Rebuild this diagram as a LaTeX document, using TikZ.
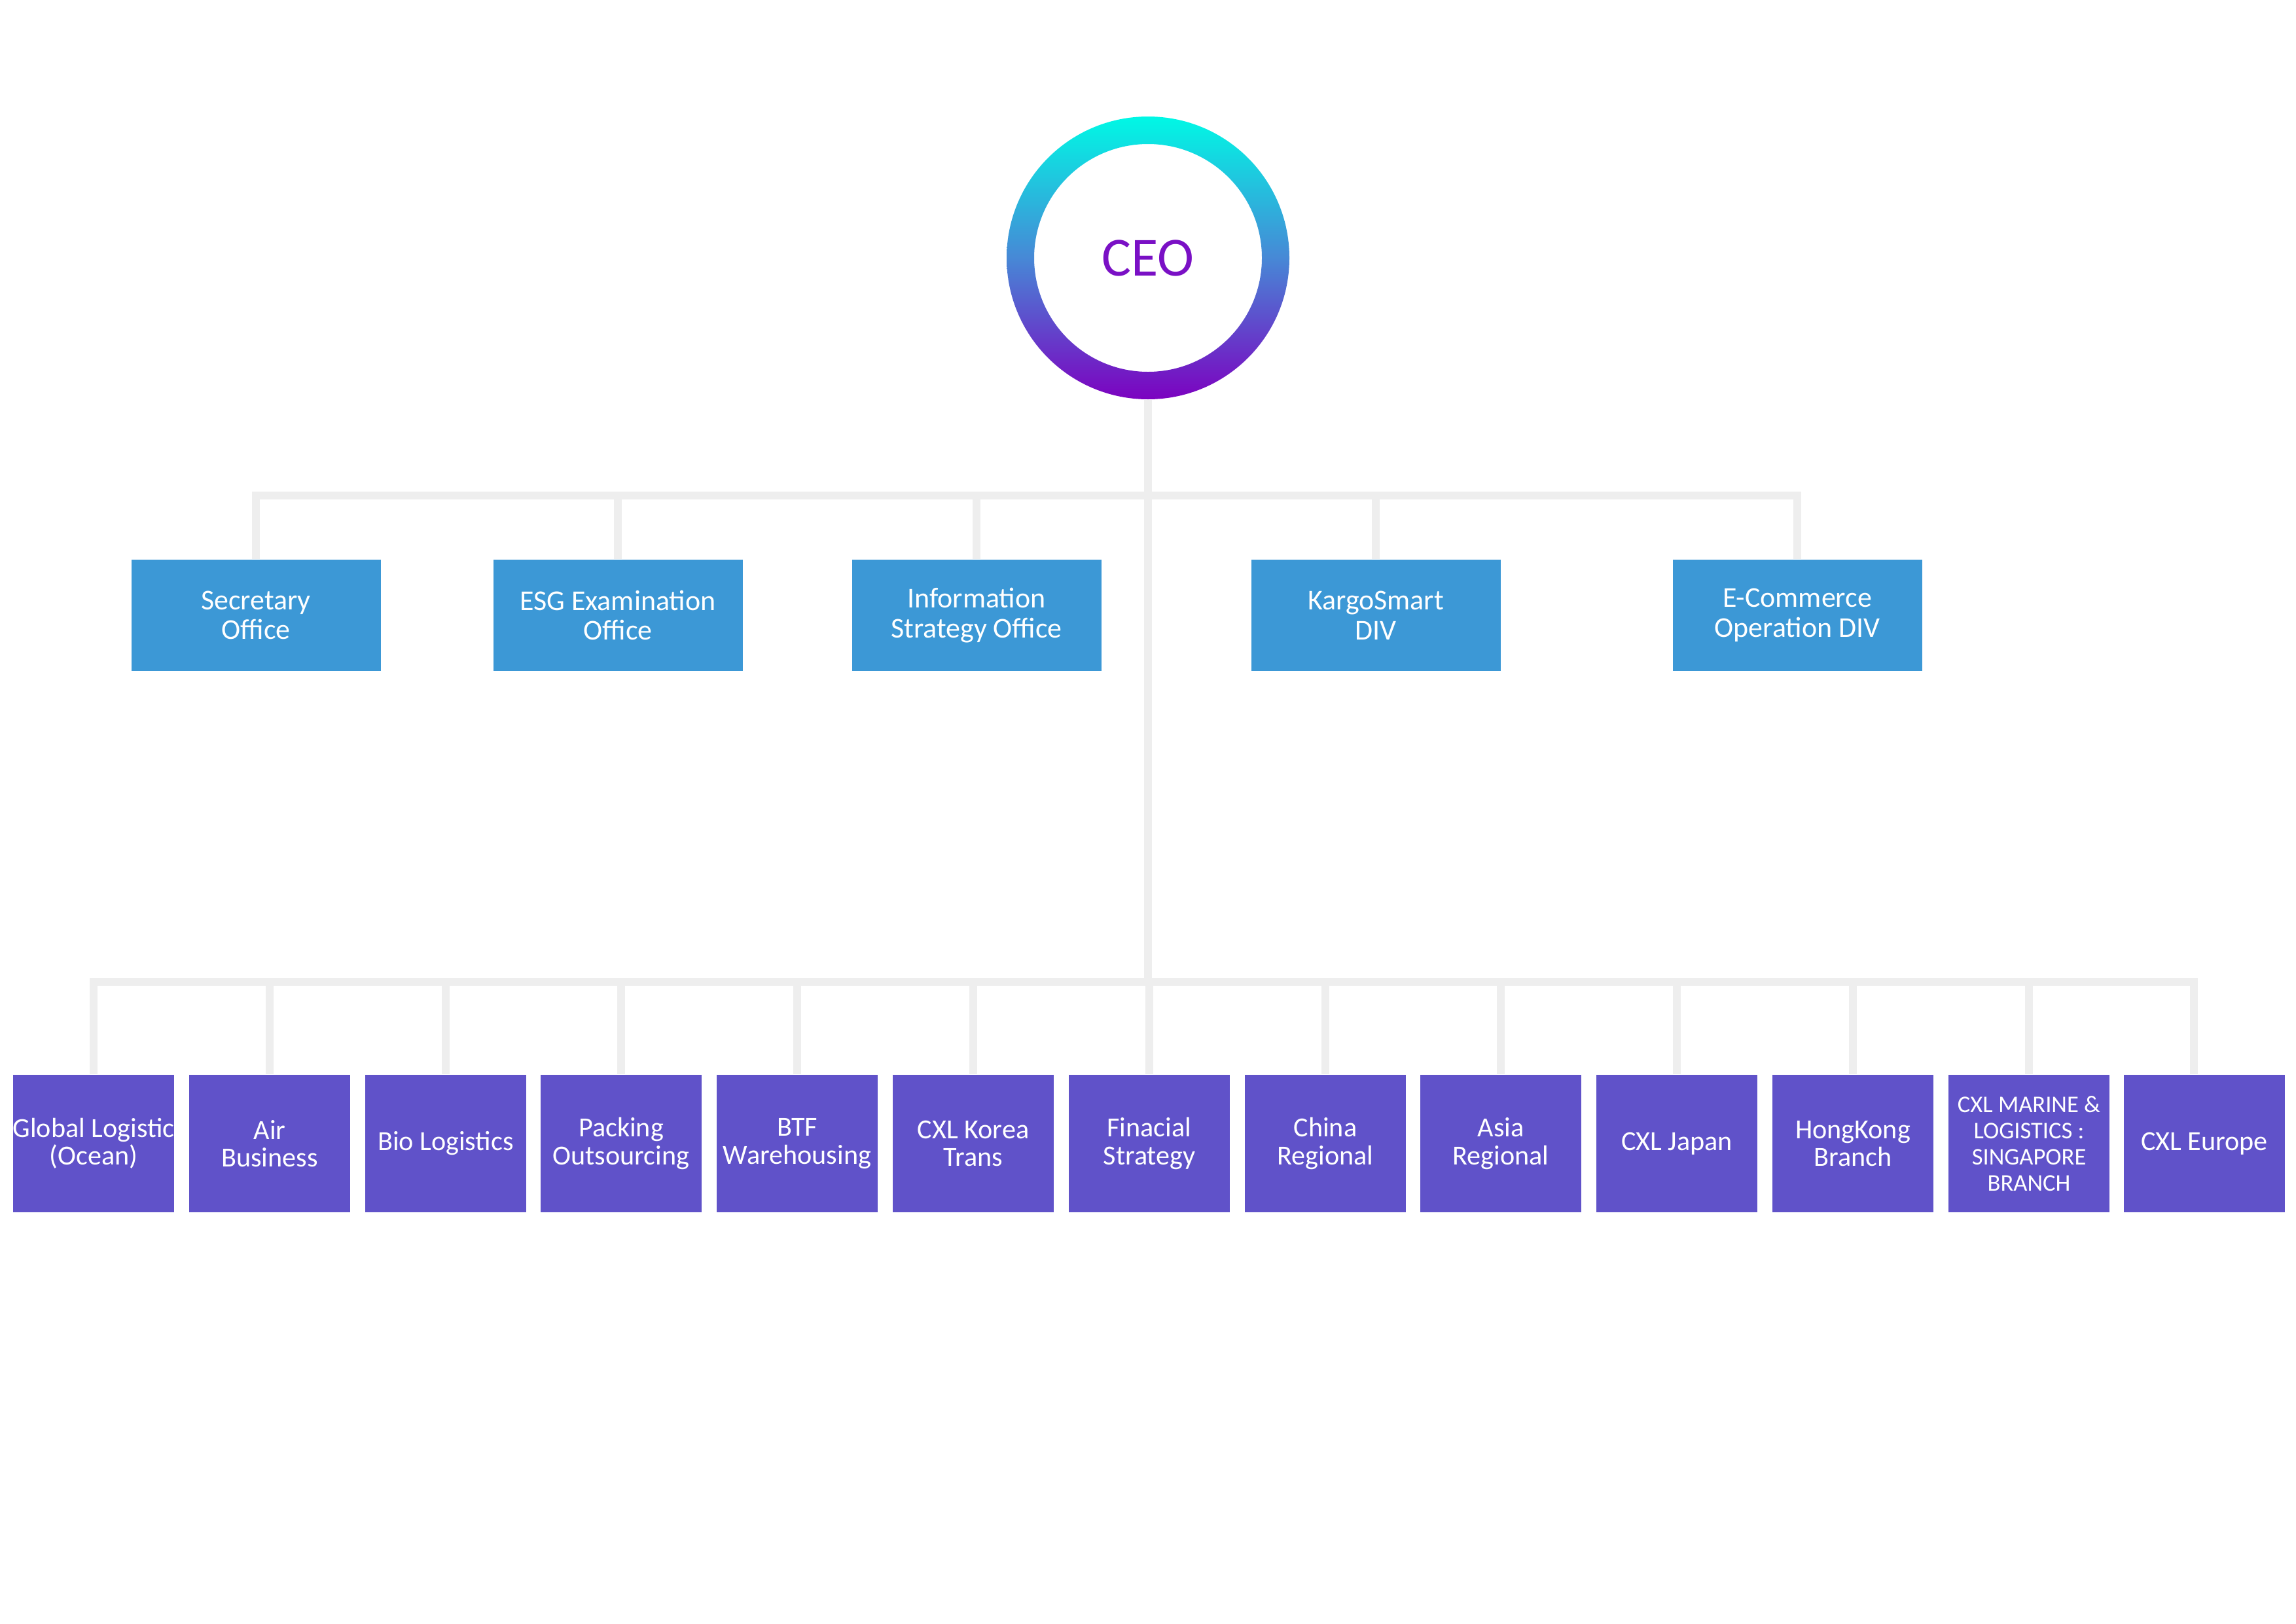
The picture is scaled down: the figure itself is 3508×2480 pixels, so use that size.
\documentclass[tikz,border=0pt]{standalone}
\usepackage{fontspec}
\setmainfont{Carlito}
\definecolor{linegray}{HTML}{EEEEEE}
\definecolor{topblue}{HTML}{3C98D6}
\definecolor{botpurple}{HTML}{6052C9}
\definecolor{ceotext}{HTML}{7A10C5}
\definecolor{ringtop}{HTML}{00F8E5}
\definecolor{ringmid}{HTML}{4788D6}
\definecolor{ringbot}{HTML}{7C02C0}
\begin{document}
\begin{tikzpicture}[x=0.1mm,y=-0.1mm,
  conn/.style={draw=linegray,line width=1.2mm,line join=miter},
  topbox/.style={fill=topblue,text=white,minimum width=38.1mm,minimum height=17mm,
    align=center,inner sep=0pt,font=\fontsize{12.5}{13}\selectfont},
  botbox/.style={fill=botpurple,text=white,minimum width=24.6mm,minimum height=21mm,
    align=center,inner sep=0pt,font=\fontsize{12}{12}\selectfont},
  ceonode/.style={circle,minimum size=43.2mm,inner sep=0pt,text=ceotext,
    font=\fontsize{24}{28}\selectfont}]
\useasboundingbox[fill=white] (0,0) rectangle (3508,2480);
% CEO
\node[ceonode] (ceo) at (1754,394) {CEO};
% connector junctions
\coordinate (tb) at (1754,757);
\coordinate (bb) at (1754,1500);
% top row
\node[topbox] (t1) at (391,940) {Secretary\\Office};
\node[topbox] (t2) at (944,940) {ESG Examination\\Office};
\node[topbox] (t3) at (1492,940) {Information\\Strategy Office};
\node[topbox] (t4) at (2102,940) {KargoSmart\\DIV};
\node[topbox] (t5) at (2746,940) {E-Commerce\\Operation DIV};
% bottom row
\node[botbox] (b1) at (143,1747) {Global Logistic\\(Ocean)};
\node[botbox] (b2) at (412,1747) {Air\\Business};
\node[botbox] (b3) at (681,1747) {Bio Logistics};
\node[botbox] (b4) at (949,1747) {Packing\\Outsourcing};
\node[botbox] (b5) at (1218,1747) {BTF\\Warehousing};
\node[botbox] (b6) at (1487,1747) {CXL Korea\\Trans};
\node[botbox] (b7) at (1756,1747) {Finacial\\Strategy};
\node[botbox] (b8) at (2025,1747) {China\\Regional};
\node[botbox] (b9) at (2293,1747) {Asia\\Regional};
\node[botbox] (b10) at (2562,1747) {CXL Japan};
\node[botbox] (b11) at (2831,1747) {HongKong\\Branch};
\node[botbox,font=\fontsize{10.4}{11.4}\selectfont] (b12) at (3100,1747) {CXL MARINE \&\\LOGISTICS :\\SINGAPORE\\BRANCH};
\node[botbox] (b13) at (3368,1747) {CXL Europe};
% connectors
\draw[conn] (ceo.south) -- (bb);
\foreach \n in {t1,t2,t3,t4,t5} {\draw[conn] (tb) -| (\n.north);}
\foreach \n in {b1,b2,b3,b4,b5,b6,b7,b8,b9,b10,b11,b12} {\draw[conn] (bb) -| (\n.north);}
\draw[conn] (bb) -| ([xshift=-1.6mm]b13.north);
% ring
\shade[even odd rule,top color=ringtop,bottom color=ringbot,middle color=ringmid]
  (ceo.center) circle (21.6mm) (ceo.center) circle (17.4mm);
\end{tikzpicture}
\end{document}
